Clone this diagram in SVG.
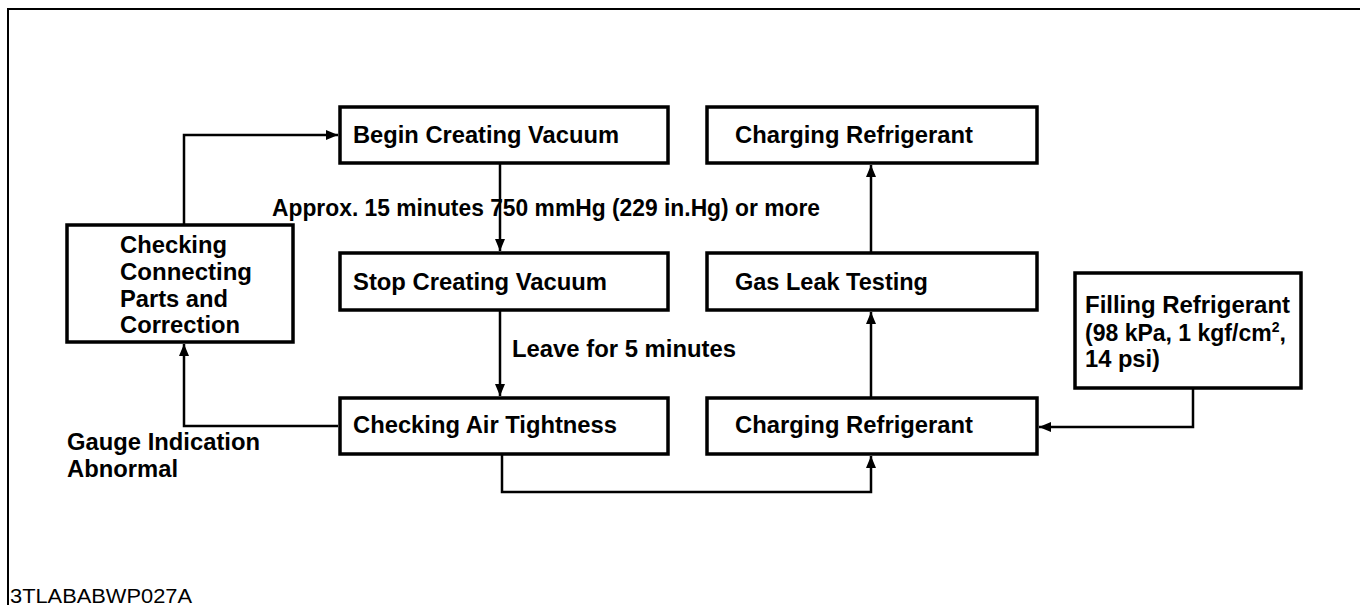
<svg xmlns="http://www.w3.org/2000/svg" width="1360" height="605" viewBox="0 0 1360 605">
<style>
.box{fill:#fff;stroke:#000;stroke-width:3.5}
.t{font-family:"Liberation Sans",Arial,sans-serif;font-weight:bold;font-size:23px;fill:#000}
.c{fill:none;stroke:#000;stroke-width:2.5}
.id{font-family:"Liberation Sans",Arial,sans-serif;font-size:20px;fill:#000}
</style>
<defs>
<marker id="ah" viewBox="0 0 12 10" refX="12" refY="5" markerWidth="12" markerHeight="10" markerUnits="userSpaceOnUse" orient="auto">
<path d="M0,0 L12,5 L0,10 Z" fill="#000"/>
</marker>
</defs>
<rect width="1360" height="605" fill="#fff"/>
<path d="M8,605 V9 H1360" fill="none" stroke="#000" stroke-width="2"/>
<g id="connectors">
<path class="c" d="M184,225 V135 H338" marker-end="url(#ah)"/>
<path class="c" d="M500,163 V251" marker-end="url(#ah)"/>
<path class="c" d="M500,310 V396" marker-end="url(#ah)"/>
<path class="c" d="M338,426 H184 V344" marker-end="url(#ah)"/>
<path class="c" d="M502,454 V492 H871 V456" marker-end="url(#ah)"/>
<path class="c" d="M871,398 V312" marker-end="url(#ah)"/>
<path class="c" d="M871,253 V165" marker-end="url(#ah)"/>
<path class="c" d="M1193,388 V427 H1039" marker-end="url(#ah)"/>
</g>
<g id="begin">
<rect class="box" x="340" y="107" width="328" height="56"/>
<text class="t" x="353" y="143" textLength="266" lengthAdjust="spacingAndGlyphs">Begin Creating Vacuum</text>
</g>
<g id="charging-top">
<rect class="box" x="707" y="107" width="330" height="56"/>
<text class="t" x="735" y="143" textLength="238" lengthAdjust="spacingAndGlyphs">Charging Refrigerant</text>
</g>
<g id="approx-label">
<text class="t" x="272" y="216" textLength="548" lengthAdjust="spacingAndGlyphs">Approx. 15 minutes 750 mmHg (229 in.Hg) or more</text>
</g>
<g id="checking-connecting">
<rect class="box" x="67" y="225" width="226" height="117"/>
<text class="t" x="120" y="253" textLength="107" lengthAdjust="spacingAndGlyphs">Checking</text>
<text class="t" x="120" y="280" textLength="132" lengthAdjust="spacingAndGlyphs">Connecting</text>
<text class="t" x="120" y="307" textLength="108" lengthAdjust="spacingAndGlyphs">Parts and</text>
<text class="t" x="120" y="333" textLength="120" lengthAdjust="spacingAndGlyphs">Correction</text>
</g>
<g id="stop">
<rect class="box" x="340" y="253" width="328" height="57"/>
<text class="t" x="353" y="290" textLength="254" lengthAdjust="spacingAndGlyphs">Stop Creating Vacuum</text>
</g>
<g id="gas-leak">
<rect class="box" x="707" y="253" width="330" height="57"/>
<text class="t" x="735" y="290" textLength="193" lengthAdjust="spacingAndGlyphs">Gas Leak Testing</text>
</g>
<g id="filling">
<rect class="box" x="1075" y="273" width="226" height="115"/>
<text class="t" x="1085" y="313" textLength="205" lengthAdjust="spacingAndGlyphs">Filling Refrigerant</text>
<text class="t" x="1085" y="341">(98 kPa, 1 kgf/cm<tspan font-size="14" dy="-9">2</tspan><tspan dy="9">,</tspan></text>
<text class="t" x="1085" y="367" textLength="75" lengthAdjust="spacingAndGlyphs">14 psi)</text>
</g>
<g id="leave-label">
<text class="t" x="512" y="357" textLength="224" lengthAdjust="spacingAndGlyphs">Leave for 5 minutes</text>
</g>
<g id="air-tightness">
<rect class="box" x="340" y="398" width="328" height="56"/>
<text class="t" x="353" y="433" textLength="264" lengthAdjust="spacingAndGlyphs">Checking Air Tightness</text>
</g>
<g id="charging-bottom">
<rect class="box" x="707" y="398" width="330" height="56"/>
<text class="t" x="735" y="433" textLength="238" lengthAdjust="spacingAndGlyphs">Charging Refrigerant</text>
</g>
<g id="gauge-label">
<text class="t" x="67" y="450" textLength="193" lengthAdjust="spacingAndGlyphs">Gauge Indication</text>
<text class="t" x="67" y="477" textLength="111" lengthAdjust="spacingAndGlyphs">Abnormal</text>
</g>
<text class="id" x="10" y="603" textLength="182" lengthAdjust="spacingAndGlyphs">3TLABABWP027A</text>
</svg>
